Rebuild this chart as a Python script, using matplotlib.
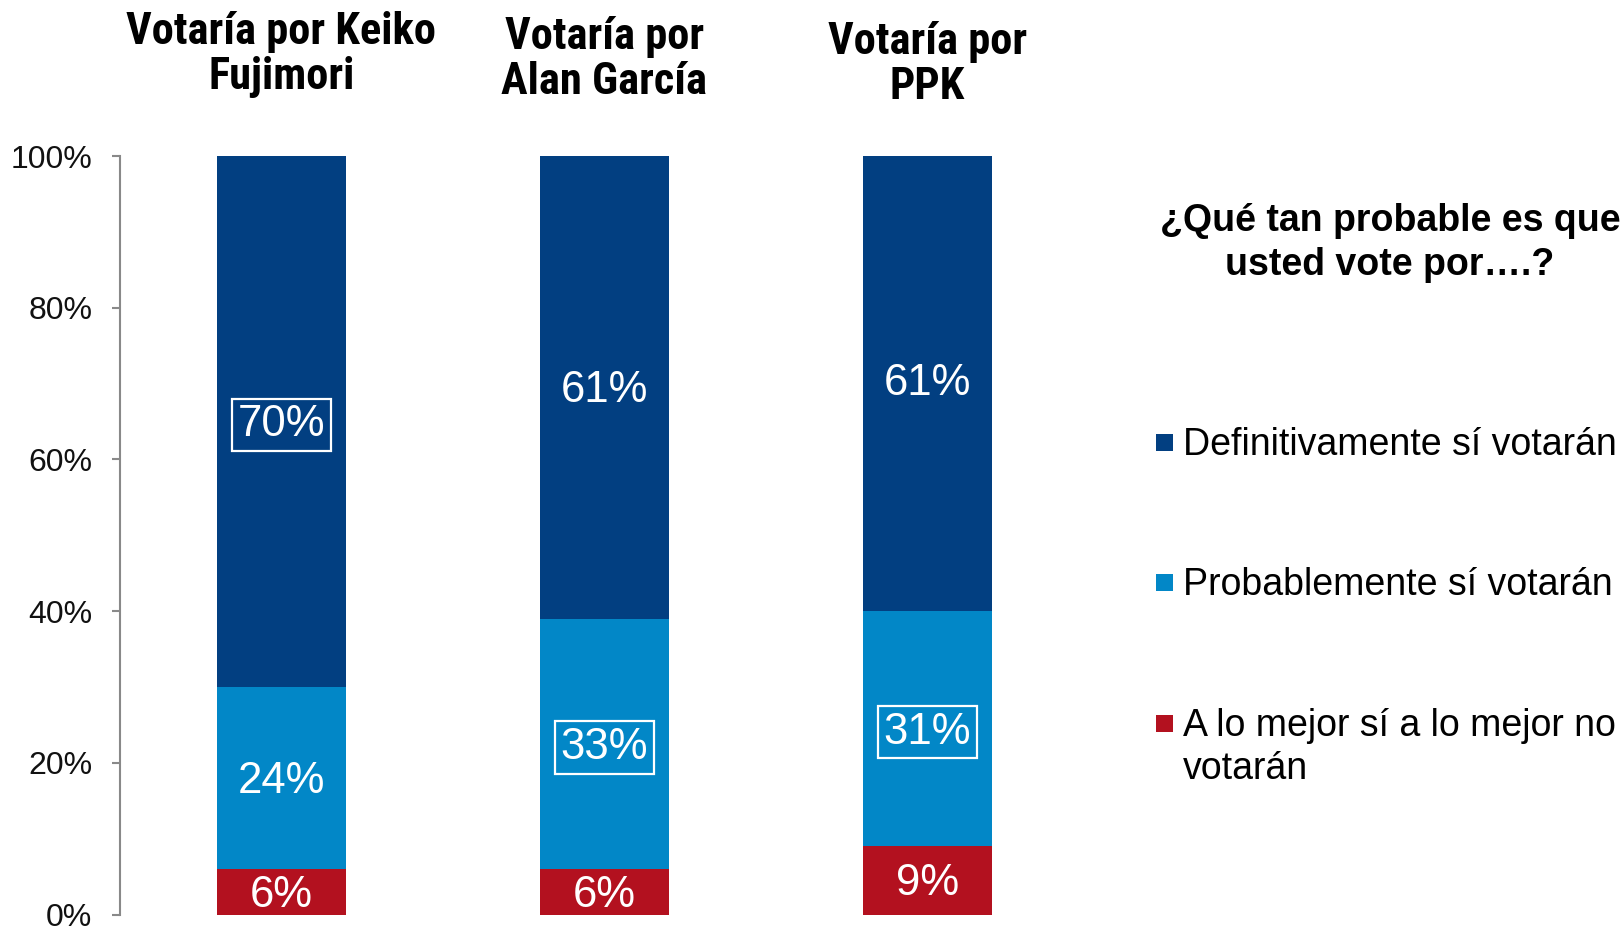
import matplotlib
matplotlib.use('Agg')
import matplotlib.pyplot as plt
import matplotlib.transforms as mtransforms
from matplotlib.patches import Rectangle
from matplotlib import font_manager
import numpy as np

# ---------------- data ----------------
categories = ['Votaría por Keiko\nFujimori', 'Votaría por\nAlan García', 'Votaría por\nPPK']
series_names = ['A lo mejor sí a lo mejor no\nvotarán', 'Probablemente sí votarán',
                'Definitivamente sí votarán']
a_lo_mejor = [6, 6, 9]
probablemente = [24, 33, 31]
definitivamente = [70, 61, 61]
series_values = [a_lo_mejor, probablemente, definitivamente]
yticks = [0, 20, 40, 60, 80, 100]
ytick_labels = ['0%', '20%', '40%', '60%', '80%', '100%']
# (category index, series index) of labels drawn inside a box
boxed_labels = [(0, 2), (1, 1), (2, 1)]
legend_title = '¿Qué tan probable es que\nusted vote por….?'

# ---------------- style ----------------
colors = ['#B3111F', '#0287C7', '#023F81']
sans = ['Liberation Sans', 'DejaVu Sans']
plt.rcParams['font.family'] = sans

available = {f.name for f in font_manager.fontManager.ttflist}
narrow_font = None
for cand in ['Liberation Sans Narrow', 'Arial Narrow', 'Roboto Condensed']:
    if cand in available:
        narrow_font = cand
        break
if narrow_font is not None:
    title_family = [narrow_font, 'Liberation Sans', 'DejaVu Sans']
    title_size, title_ls = 32, 1.1
else:
    title_family = sans
    title_size, title_ls = 27, 1.32

fig = plt.figure(figsize=(16.24, 9.27), dpi=100)
ax = fig.add_axes([0.0739, 0.0134, 0.5964, 0.8183])

x = np.arange(len(categories))
bottom = np.zeros(len(categories))
for s, (vals, col) in enumerate(zip(series_values, colors)):
    vals = np.array(vals, dtype=float)
    ax.bar(x, vals, bottom=bottom, width=0.4, color=col, edgecolor='none')
    for i, (v, b) in enumerate(zip(vals, bottom)):
        kw = {}
        if (i, s) in boxed_labels:
            kw['bbox'] = dict(boxstyle='square,pad=0.13', facecolor='none',
                              edgecolor='white', linewidth=1.6)
        ax.annotate(f'{int(v)}%', (x[i], b + v / 2), xytext=(0, -2.5),
                    textcoords='offset points', ha='center', va='center',
                    color='white', fontsize=31.5, **kw)
    bottom += vals

ax.set_xlim(-0.5, 2.5)
ax.set_ylim(0, 100)
ax.set_yticks(yticks)
ax.set_yticklabels(ytick_labels, fontsize=23, color='#111111')
ax.set_xticks([])
for sp in ['top', 'right', 'bottom']:
    ax.spines[sp].set_visible(False)
ax.spines['left'].set_color('#898989')
ax.spines['left'].set_linewidth(1.5)
ax.tick_params(axis='y', length=6, width=1.5, color='#898989', pad=14)

# category titles above bars
trans = mtransforms.blended_transform_factory(ax.transData, fig.transFigure)
title_y = [0.9415, 0.9360, 0.9305]
for i, (cat, ty) in enumerate(zip(categories, title_y)):
    ax.text(x[i], ty, cat, transform=trans, ha='center', va='center',
            fontsize=title_size, fontweight='bold', family=title_family,
            linespacing=title_ls, color='black')

# legend (drawn manually in figure pixels)
W, H = 1624, 927
fig.text(1390 / W, 1 - 243 / H, legend_title, ha='center', va='center',
         fontsize=27, fontweight='bold', color='black', linespacing=1.3)
entry_y = [723, 582, 442]  # visual centre of first text line, per series
line_step = 43
for name, col, ey in zip(series_names, colors, entry_y):
    fig.patches.append(Rectangle((1156 / W, 1 - (ey + 8.5) / H), 17 / W, 17 / H,
                                 transform=fig.transFigure, facecolor=col,
                                 edgecolor='none'))
    n_lines = name.count('\n') + 1
    base = ey + 13 + (n_lines - 1) * line_step
    fig.text(1183 / W, 1 - base / H, name, ha='left', va='baseline',
             fontsize=27, color='black', linespacing=1.24,
             transform=fig.transFigure)

fig.savefig('out.png', dpi=100)
